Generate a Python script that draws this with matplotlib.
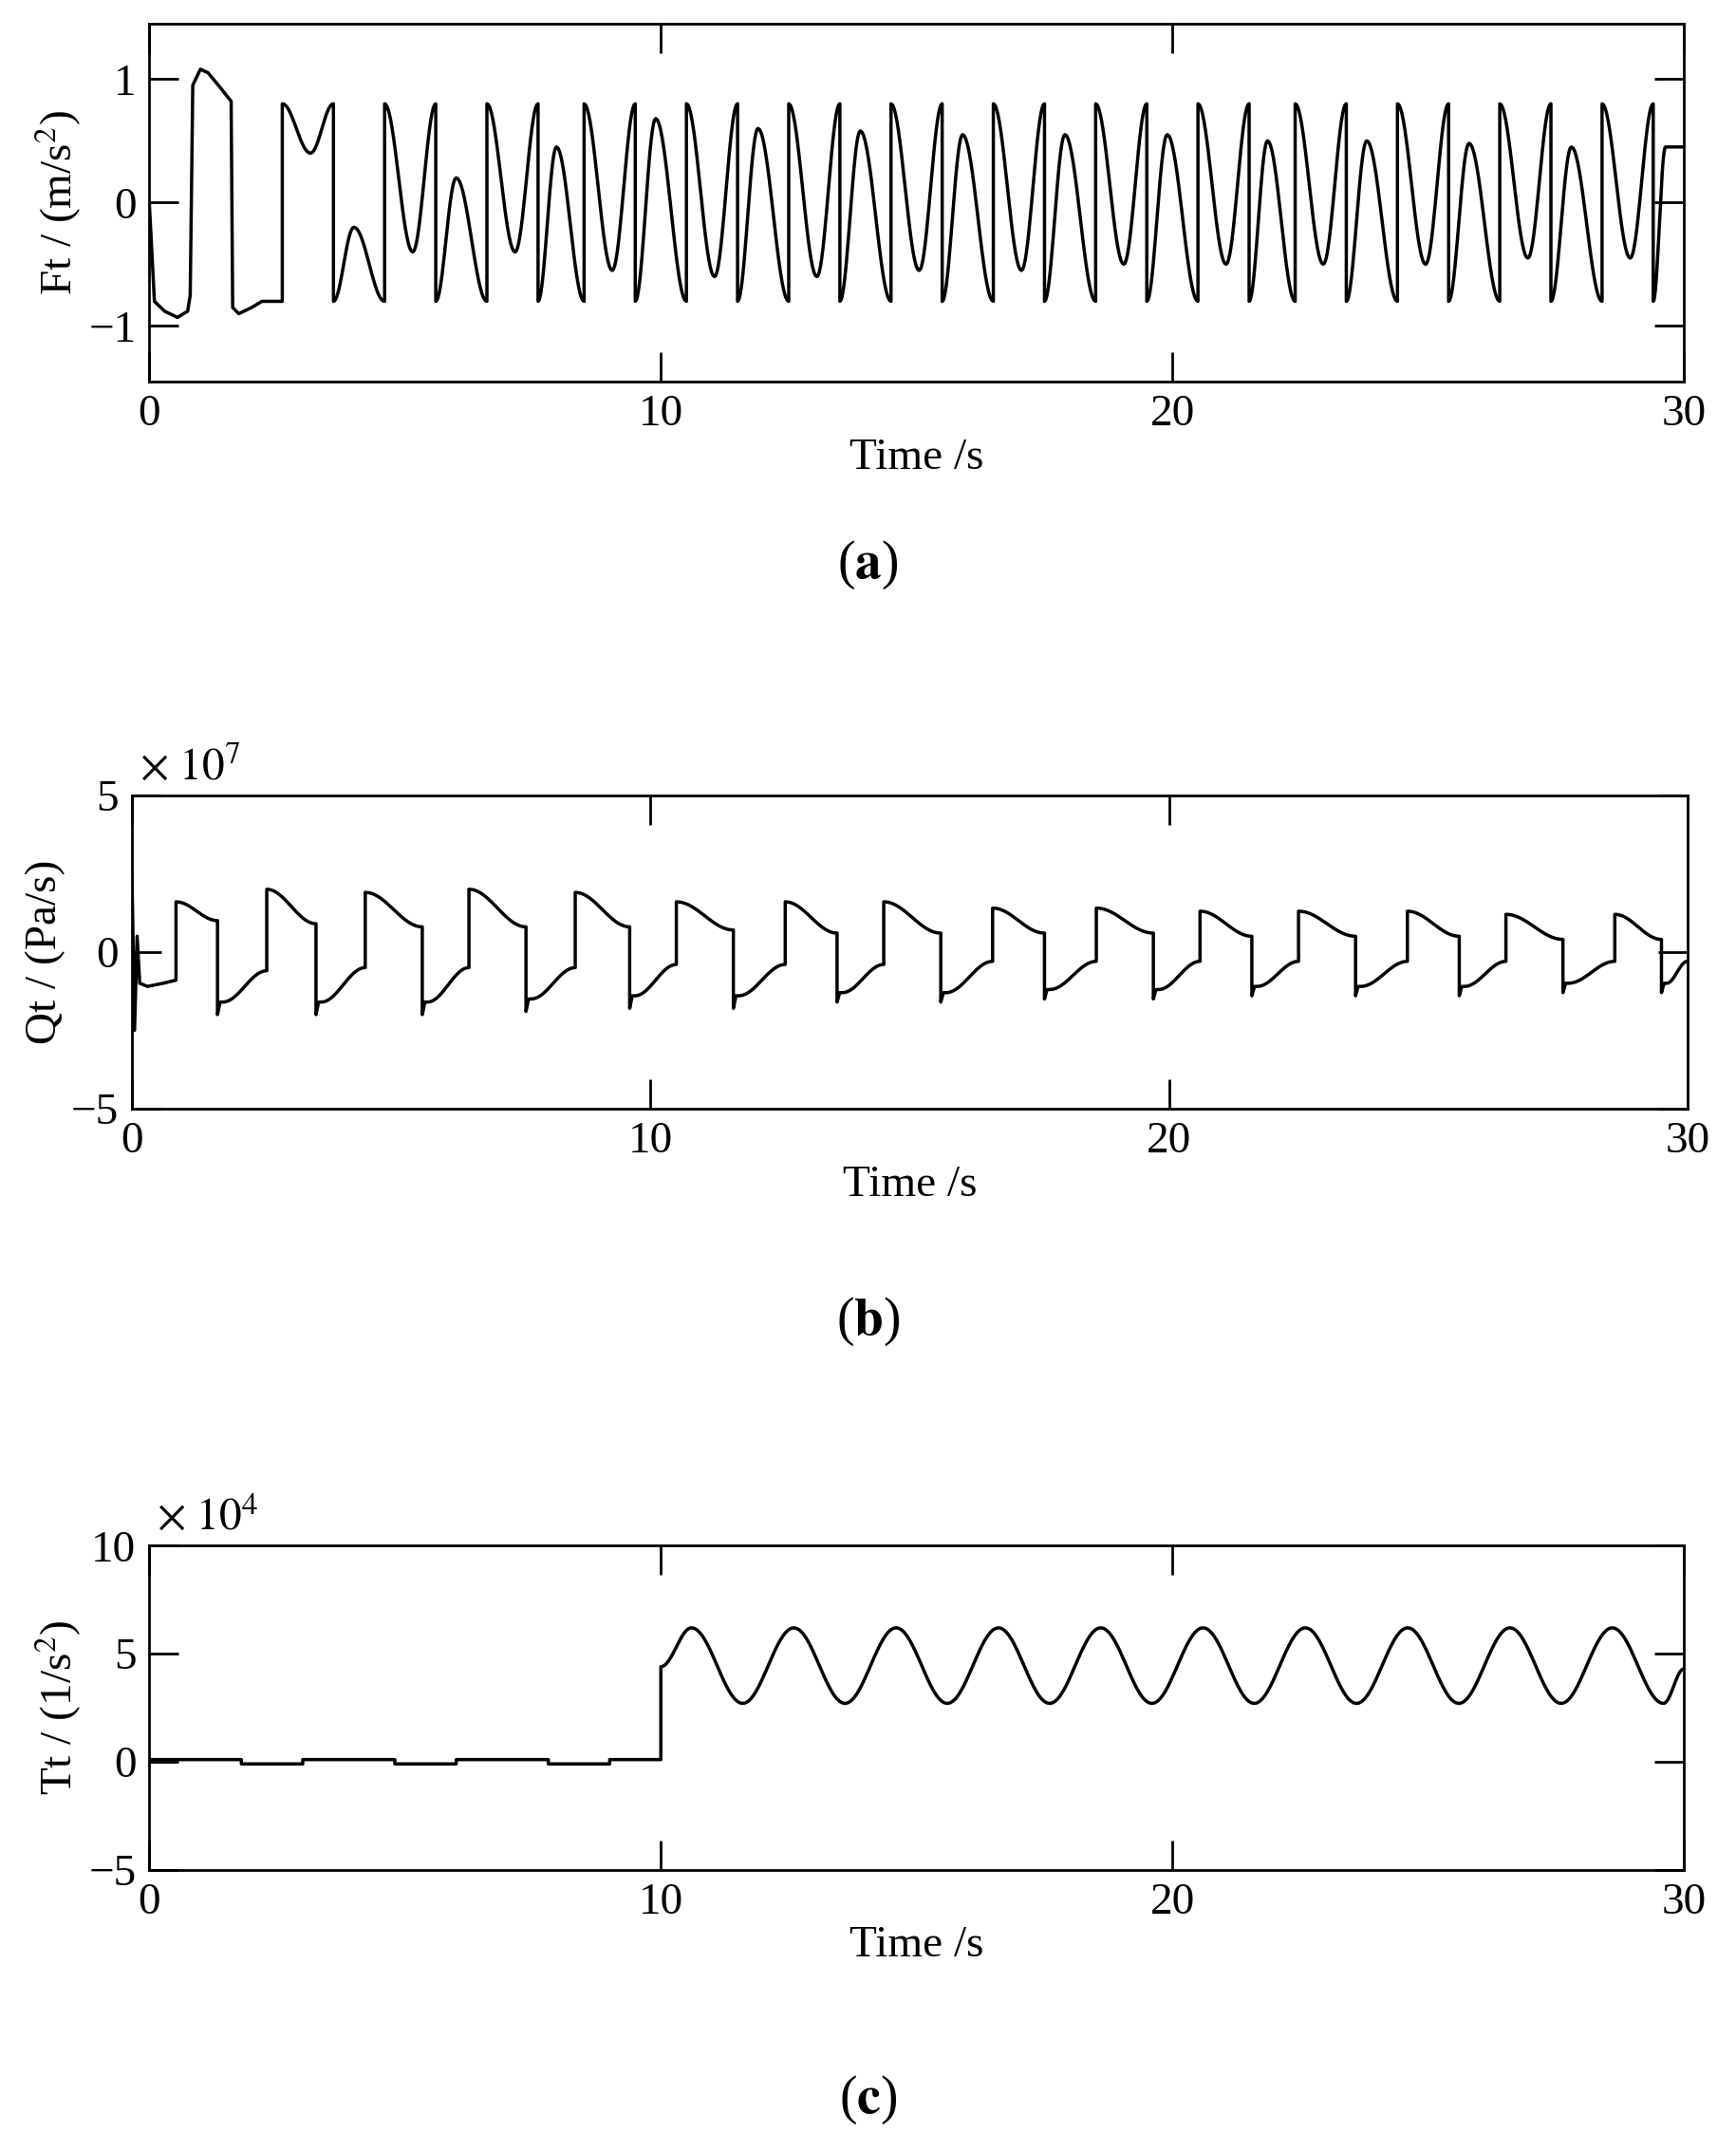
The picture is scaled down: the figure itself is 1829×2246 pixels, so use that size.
import matplotlib
matplotlib.use("Agg")
import matplotlib.pyplot as plt
import numpy as np

plt.rcParams['font.family'] = ['Liberation Serif', 'DejaVu Serif']
plt.rcParams['mathtext.fontset'] = 'stix'
FS = 34

# ---- (a) Ft: start-up part, then switching times and extreme values ----
ft_start_t = [0, 0.1, 0.3, 0.55, 0.75, 0.8, 0.85, 1.0, 1.15, 1.35, 1.6, 1.63, 1.75, 2.0, 2.2, 2.6]
ft_start_y = [0.0, -0.8, -0.88, -0.93, -0.88, -0.75, 0.95, 1.08, 1.05, 0.95, 0.82, -0.85, -0.9, -0.85, -0.8, -0.8]
ft_switch_t = [2.6, 3.6, 4.6, 5.6, 6.6, 7.6, 8.5, 9.5, 10.5, 11.5, 12.5, 13.5, 14.5, 15.5,
               16.5, 17.5, 18.5, 19.5, 20.5, 21.5, 22.4, 23.4, 24.4, 25.4, 26.4, 27.4, 28.4, 29.4]
ft_extreme = [0.4, -0.2, -0.4, 0.2, -0.4, 0.45, -0.55, 0.68, -0.6, 0.6, -0.6, 0.58, -0.55, 0.55,
              -0.55, 0.55, -0.5, 0.55, -0.5, 0.5, -0.5, 0.5, -0.5, 0.48, -0.45, 0.45, -0.45, 0.45]
ft_level = 0.8

# ---- (b) Qt (x1e7): rising and falling edges with plateau values ----
qt_up_t = [0.85, 2.6, 4.5, 6.5, 8.55, 10.5, 12.6, 14.5, 16.6, 18.6, 20.6, 22.5, 24.6, 26.5, 28.6]
qt_down_t = [1.65, 3.55, 5.6, 7.6, 9.6, 11.6, 13.6, 15.6, 17.6, 19.7, 21.6, 23.6, 25.6, 27.6, 29.5]
qt_high_start = [1.6, 2.0, 1.9, 2.0, 1.9, 1.6, 1.6, 1.6, 1.4, 1.4, 1.3, 1.3, 1.3, 1.2, 1.2]
qt_high_end = [1.0, 0.9, 0.8, 0.8, 0.8, 0.7, 0.6, 0.6, 0.6, 0.6, 0.5, 0.5, 0.5, 0.4, 0.4]
qt_low_spike = [-2.0, -2.0, -2.0, -1.9, -1.8, -1.8, -1.6, -1.6, -1.5, -1.5, -1.4, -1.4, -1.4, -1.3, -1.3]
qt_low_start = [-1.6, -1.6, -1.6, -1.5, -1.4, -1.4, -1.3, -1.3, -1.2, -1.2, -1.1, -1.1, -1.1, -1.0, -1.0]
qt_low_end = [-0.6, -0.5, -0.5, -0.5, -0.4, -0.4, -0.4, -0.3, -0.3, -0.3, -0.3, -0.3, -0.3, -0.3, -0.3]

# ---- (c) Tt (x1e4): small steps before 10 s, then oscillation extremes ----
tt_pre_t = [0, 1.8, 1.8, 3.0, 3.0, 4.8, 4.8, 6.0, 6.0, 7.8, 7.8, 9.0, 9.0, 10.0]
tt_pre_y = [0.1, 0.1, -0.1, -0.1, 0.1, 0.1, -0.1, -0.1, 0.1, 0.1, -0.1, -0.1, 0.1, 0.1]
tt_ext_t = [10.0, 10.6, 11.6, 12.6, 13.6, 14.6, 15.6, 16.6, 17.6, 18.6, 19.6, 20.6, 21.6,
            22.6, 23.6, 24.6, 25.6, 26.6, 27.6, 28.6, 29.6, 30.0]
tt_ext_y = [4.4, 6.2, 2.7, 6.2, 2.7, 6.2, 2.7, 6.2, 2.7, 6.2, 2.7, 6.2, 2.7,
            6.2, 2.7, 6.2, 2.7, 6.2, 2.7, 6.2, 2.7, 4.3]


def half_cos(t0, t1, y0, y1, n=20):
    s = np.linspace(0, 1, n)
    return t0 + (t1 - t0) * s, y0 + (y1 - y0) * (1 - np.cos(np.pi * s)) / 2


# build Ft
ft_t = list(ft_start_t)
ft_y = list(ft_start_y)
ends = ft_switch_t[1:] + [30.0]
for i, (t0, t1, ex) in enumerate(zip(ft_switch_t, ends, ft_extreme)):
    start = ft_level if i % 2 == 0 else -ft_level
    tm = t0 + 0.55 * (t1 - t0) if i % 2 == 0 else t0 + 0.4 * (t1 - t0)
    a, b = half_cos(t0, tm, start, ex)
    end_val = start if t1 < 30 else 0.45
    c, d = half_cos(tm, t1, ex, end_val)
    ft_t += list(a) + list(c)
    ft_y += list(b) + list(d)

# build Qt
qt_t = [0, 0.05, 0.1, 0.15, 0.3, 0.6, 0.85]
qt_y = [2.5, -2.5, 0.5, -1.0, -1.1, -1.0, -0.9]
for i in range(len(qt_up_t)):
    tu, td = qt_up_t[i], qt_down_t[i]
    tn = qt_up_t[i + 1] if i + 1 < len(qt_up_t) else 30.0
    a, b = half_cos(tu, td, qt_high_start[i], qt_high_end[i])
    qt_t += [tu] + list(a)
    qt_y += [qt_low_end[i - 1] if i > 0 else -0.9] + list(b)
    c, d = half_cos(td + 0.1, tn, qt_low_start[i], qt_low_end[i])
    qt_t += [td, td + 0.05] + list(c)
    qt_y += [qt_low_spike[i], qt_low_start[i]] + list(d)

# build Tt
tt_t = list(tt_pre_t)
tt_y = list(tt_pre_y)
tt_t.append(10.0)
tt_y.append(tt_ext_y[0])
for i in range(len(tt_ext_t) - 1):
    a, b = half_cos(tt_ext_t[i], tt_ext_t[i + 1], tt_ext_y[i], tt_ext_y[i + 1])
    tt_t += list(a)
    tt_y += list(b)

fig = plt.figure(figsize=(18.29, 22.46), dpi=100)
panels = [
    ([0.086, 0.821, 0.884, 0.168], ft_t, ft_y, (-1.45, 1.45), [-1, 0, 1],
     'Ft / (m/s$^2$)', None, 'a', 0.735),
    ([0.076, 0.480, 0.896, 0.147], qt_t, qt_y, (-5, 5), [-5, 0, 5],
     'Qt / (Pa/s)', r'$\times\ 10^7$', 'b', 0.380),
    ([0.086, 0.123, 0.884, 0.152], tt_t, tt_y, (-5, 10), [-5, 0, 5, 10],
     'Tt / (1/s$^2$)', r'$\times\ 10^4$', 'c', 0.015),
]
for rect, x, y, ylim, yt, ylab, mult, letter, ly in panels:
    ax = fig.add_axes(rect)
    ax.plot(x, y, color='black', lw=2.5)
    ax.set_xlim(0, 30)
    ax.set_ylim(*ylim)
    ax.set_xticks([0, 10, 20, 30])
    ax.set_yticks(yt)
    ax.set_yticklabels([str(v).replace('-', '\u2212') for v in yt])
    ax.tick_params(direction='in', length=22, width=2, top=True, right=True,
                   labelsize=FS, pad=10)
    for s in ax.spines.values():
        s.set_linewidth(2)
    ax.set_xlabel('Time /s', fontsize=FS, labelpad=2)
    ax.set_ylabel(ylab, fontsize=FS, labelpad=4)
    if mult:
        ax.text(0.005, 1.02, mult, transform=ax.transAxes, fontsize=FS, va='bottom')
    fig.text(0.5, ly, '(' + r'$\mathbf{' + letter + '}$' + ')', ha='center',
             va='center', fontsize=40)

fig.savefig('out.png', dpi=100)
